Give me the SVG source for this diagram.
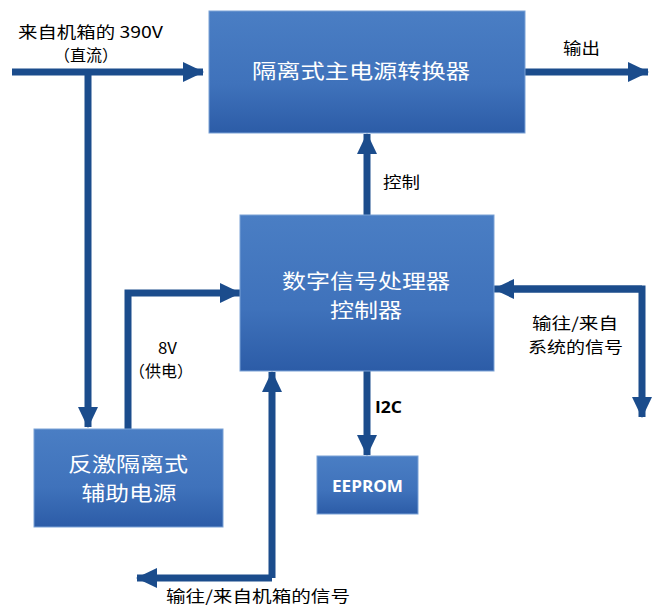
<svg xmlns="http://www.w3.org/2000/svg" width="657" height="607" viewBox="0 0 657 607">
<defs>
<linearGradient id="g" x1="0" y1="0" x2="0" y2="1">
<stop offset="0" stop-color="#4a7ec4"/>
<stop offset="0.6" stop-color="#3f72bb"/>
<stop offset="1" stop-color="#2c5ca7"/>
</linearGradient>
<marker id="ah" markerUnits="userSpaceOnUse" markerWidth="22" markerHeight="22" viewBox="0 0 22 22" refX="20" refY="11" orient="auto">
<path d="M0,1 L21,11 L0,21 Z" fill="#1b4c8c"/>
</marker>
<style>
.box{fill:url(#g);stroke:#7aa2d6;stroke-width:1}
.bt{fill:#ffffff;font-family:"Noto Sans CJK SC","Noto Sans",sans-serif;font-size:20px;text-anchor:middle}
.lb{fill:#000000;font-family:"Noto Sans CJK SC","Noto Sans",sans-serif;font-size:16px}
.ln{fill:none;stroke:#1b4c8c;stroke-width:7}
</style>
</defs>
<rect width="657" height="607" fill="#ffffff"/>
<g id="connectors">
<path class="ln" d="M12,72 L203,72" marker-end="url(#ah)"/>
<path class="ln" d="M88,72 L88,427" marker-end="url(#ah)"/>
<path class="ln" d="M525,72 L648,72" marker-end="url(#ah)"/>
<path class="ln" d="M367,215 L367,134" marker-end="url(#ah)"/>
<path class="ln" d="M128,429 L128,293 L240,293" marker-end="url(#ah)"/>
<path class="ln" d="M642,289 L494,289" marker-end="url(#ah)"/>
<path class="ln" d="M514,289 L642,289 L642,417" marker-end="url(#ah)"/>
<path class="ln" d="M367,371 L367,455" marker-end="url(#ah)"/>
<path class="ln" d="M272,578 L272,372" marker-end="url(#ah)"/>
<path class="ln" d="M272,578 L137,578" marker-end="url(#ah)"/>
</g>
<g id="main">
<rect class="box" x="209" y="11" width="316" height="122"/>
<text class="bt" x="361" y="79" font-size="23" textLength="218" lengthAdjust="spacingAndGlyphs">隔离式主电源转换器</text>
</g>
<g id="dsp">
<rect class="box" x="240" y="215" width="254" height="156"/>
<text class="bt" x="366" y="289" textLength="168" lengthAdjust="spacingAndGlyphs">数字信号处理器</text>
<text class="bt" x="366" y="318" textLength="72" lengthAdjust="spacingAndGlyphs">控制器</text>
</g>
<g id="flyback">
<rect class="box" x="34" y="429" width="189" height="98"/>
<text class="bt" x="128" y="472" textLength="120" lengthAdjust="spacingAndGlyphs">反激隔离式</text>
<text class="bt" x="129" y="501" textLength="95" lengthAdjust="spacingAndGlyphs">辅助电源</text>
</g>
<g id="eeprom">
<rect class="box" x="317" y="456" width="101" height="58"/>
<text x="367.5" y="492" fill="#ffffff" font-family="'Open Sans','Noto Sans',sans-serif" font-size="16" font-weight="bold" text-anchor="middle" textLength="71" lengthAdjust="spacingAndGlyphs">EEPROM</text>
</g>
<g id="labels">
<text class="lb" x="18" y="38" textLength="145" lengthAdjust="spacingAndGlyphs">来自机箱的 390V</text>
<text class="lb" x="54" y="61">（直流）</text>
<text class="lb" x="563" y="54" textLength="37" lengthAdjust="spacingAndGlyphs">输出</text>
<text class="lb" x="383" y="188" textLength="37" lengthAdjust="spacingAndGlyphs">控制</text>
<text class="lb" x="158" y="354" textLength="19" lengthAdjust="spacingAndGlyphs">8V</text>
<text class="lb" x="129" y="377">（供电）</text>
<text class="lb" x="532" y="329" textLength="86" lengthAdjust="spacingAndGlyphs">输往/来自</text>
<text class="lb" x="528" y="353" textLength="95" lengthAdjust="spacingAndGlyphs">系统的信号</text>
<text x="375" y="413" fill="#000000" font-family="'Open Sans','Noto Sans',sans-serif" font-size="16" font-weight="bold" textLength="27" lengthAdjust="spacingAndGlyphs">I2C</text>
<text class="lb" x="166" y="602" font-size="17" textLength="184" lengthAdjust="spacingAndGlyphs">输往/来自机箱的信号</text>
</g>
</svg>
